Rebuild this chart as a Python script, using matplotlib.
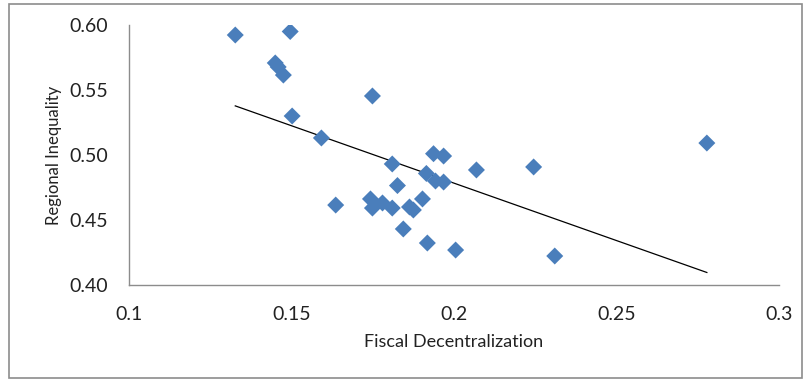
import matplotlib
matplotlib.use('Agg')
import matplotlib.pyplot as plt
from matplotlib.patches import Rectangle
import numpy as np

# fiscal decentralization (x) vs regional inequality (y)
fiscal_dec = [0.1327, 0.1496, 0.1450, 0.1459, 0.1475, 0.1502, 0.1749, 0.1592,
              0.1937, 0.1968, 0.1810, 0.1915, 0.1943, 0.1968, 0.2069, 0.2245,
              0.2778, 0.1826, 0.1636, 0.1743, 0.1749, 0.1780, 0.1810, 0.1863,
              0.1875, 0.1903, 0.1844, 0.1918, 0.2005, 0.2310]
reg_ineq = [0.5923, 0.5950, 0.5708, 0.5677, 0.5615, 0.5300, 0.5454, 0.5131,
            0.5010, 0.4992, 0.4931, 0.4858, 0.4800, 0.4792, 0.4885, 0.4908,
            0.5092, 0.4765, 0.4615, 0.4662, 0.4592, 0.4631, 0.4592, 0.4600,
            0.4577, 0.4662, 0.4431, 0.4323, 0.4269, 0.4223]

x_ticks = [0.1, 0.15, 0.2, 0.25, 0.3]
x_labels = ['0.1', '0.15', '0.2', '0.25', '0.3']
y_ticks = [0.40, 0.45, 0.50, 0.55, 0.60]
y_labels = ['0.40', '0.45', '0.50', '0.55', '0.60']

plt.rcParams['font.family'] = ['Lato', 'DejaVu Sans']

fig = plt.figure(figsize=(8.08, 3.81), dpi=100)
fig.patch.set_facecolor('white')
# chart area border
fig.patches.append(Rectangle((9 / 808, 3 / 381), 793 / 808, 374 / 381,
                             transform=fig.transFigure, fill=False,
                             edgecolor='#8c8c8c', linewidth=1.2))

ax = fig.add_axes([129 / 808, 96 / 381, 650 / 808, 260 / 381])
ax.scatter(fiscal_dec, reg_ineq, marker='D', s=75, color='#4a7ebb',
           edgecolors='none', zorder=3)

# linear trendline over the data range
x = np.array(fiscal_dec)
y = np.array(reg_ineq)
slope, intercept = np.polyfit(x, y, 1)
xs = np.array([x.min(), x.max()])
ax.plot(xs, slope * xs + intercept, color='black', linewidth=0.9, zorder=2)

ax.set_xlim(0.1, 0.3)
ax.set_ylim(0.40, 0.60)
ax.set_xticks(x_ticks)
ax.set_xticklabels(x_labels)
ax.set_yticks(y_ticks)
ax.set_yticklabels(y_labels)
ax.tick_params(length=0, labelsize=14, colors='#222222')
ax.tick_params(axis='y', pad=15)
ax.tick_params(axis='x', pad=15)

for side in ['top', 'right']:
    ax.spines[side].set_visible(False)
for side in ['left', 'bottom']:
    ax.spines[side].set_color('#8c8c8c')
    ax.spines[side].set_linewidth(1.0)

ax.set_xlabel('Fiscal Decentralization', fontsize=13, color='#222222', labelpad=8)
ax.set_ylabel('Regional Inequality', fontsize=12, color='#222222', labelpad=5)

fig.savefig('out.png', dpi=100)
